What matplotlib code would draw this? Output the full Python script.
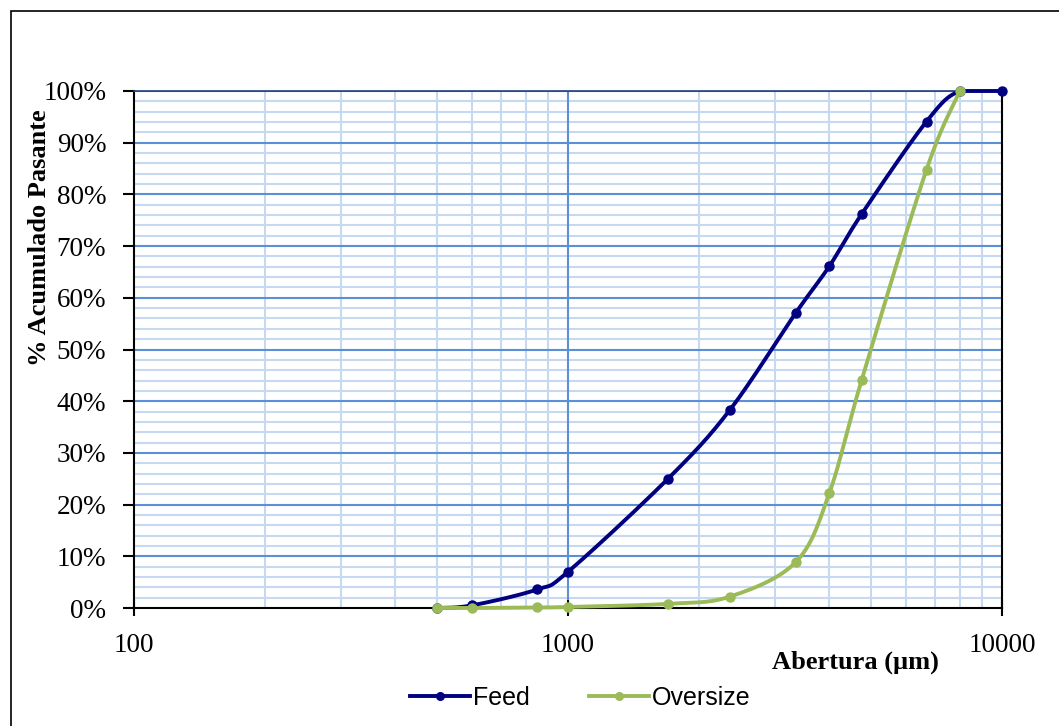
import numpy as np
import matplotlib
matplotlib.use("Agg")
import matplotlib.pyplot as plt
from matplotlib.ticker import FixedLocator, NullFormatter
from matplotlib.patches import Rectangle

# sieve openings (um) and cumulative % passing
feed_size = [500, 600, 850, 1000, 1700, 2360, 3350, 4000, 4750, 6700, 8000, 10000]
feed_pass = [0.0, 0.5, 3.6, 7.0, 25.0, 38.3, 57.1, 66.1, 76.2, 94.1, 100.0, 100.0]

over_size = [500, 600, 850, 1000, 1700, 2360, 3350, 4000, 4750, 6700, 8000]
over_pass = [0.0, 0.0, 0.1, 0.2, 0.8, 2.2, 8.9, 22.2, 44.1, 84.8, 100.0]

y_ticks = list(range(0, 101, 10))
y_labels = [f"{v}%" for v in y_ticks]
x_ticks = [100, 1000, 10000]
x_labels = ["100", "1000", "10000"]


def smooth(xs, ys, n=30):
    # Excel-like smoothed line: bezier through points in (log x, y) screen-ish space
    u = np.log10(np.asarray(xs, float)) * 434.0
    v = np.asarray(ys, float) * 5.17
    pts = np.column_stack([u, v])
    out = []
    for i in range(len(pts) - 1):
        p0 = pts[i - 1] if i > 0 else pts[i]
        p1, p2 = pts[i], pts[i + 1]
        p3 = pts[i + 2] if i + 2 < len(pts) else pts[i + 1]
        c1 = p1 + (p2 - p0) / 6.0
        c2 = p2 - (p3 - p1) / 6.0
        t = np.linspace(0, 1, n)[:, None]
        seg = ((1 - t) ** 3) * p1 + 3 * ((1 - t) ** 2) * t * c1 + 3 * (1 - t) * t ** 2 * c2 + t ** 3 * p2
        out.append(seg if i == 0 else seg[1:])
    out = np.vstack(out)
    return 10 ** (out[:, 0] / 434.0), np.clip(out[:, 1] / 5.17, 0, 100)


fig = plt.figure(figsize=(10.59, 7.26), dpi=100)
ax = fig.add_axes([134 / 1059, 1 - 608 / 726, (1002 - 134) / 1059, (608 - 91) / 726])

ax.set_xscale("log")
ax.set_xlim(100, 10000)
ax.set_ylim(0, 100)

# gridlines
minor_x = [m * 10 ** d for d in (2, 3) for m in range(2, 10)]
for xv in minor_x:
    ax.axvline(xv, color="#c6d9f0", lw=1.5, zorder=0)
for yv in range(2, 100, 2):
    if yv % 10:
        ax.axhline(yv, color="#c6d9f0", lw=1.5, zorder=0)
for yv in range(10, 101, 10):
    ax.axhline(yv, color="#5b8fd6", lw=1.5, zorder=0.5)
ax.axvline(1000, color="#5b8fd6", lw=1.5, zorder=0.5)

fx, fy = smooth(feed_size, feed_pass)
ox, oy = smooth(over_size, over_pass)
ax.plot(fx, fy, color="#000080", lw=2.8, zorder=3, clip_on=False)
ax.plot(feed_size, feed_pass, "o", color="#000080", ms=6.5, zorder=3, clip_on=False)
ax.plot(ox, oy, color="#9bbb59", lw=2.8, zorder=4, clip_on=False)
ax.plot(over_size, over_pass, "o", color="#9bbb59", ms=6.5, zorder=4, clip_on=False)

# legend handles
h1, = ax.plot([], [], color="#000080", lw=2.8, marker="o", ms=5.5)
h2, = ax.plot([], [], color="#9bbb59", lw=2.8, marker="o", ms=5.5)
fig.legend([h1, h2], ["Feed", "Oversize"], loc="center", bbox_to_anchor=(0.548, 0.039),
           ncol=2, frameon=False, handlelength=2.4, columnspacing=2.4, handletextpad=0.1,
           prop={"family": "Liberation Sans", "size": 18})

ax.yaxis.set_major_locator(FixedLocator(y_ticks))
ax.set_yticklabels(y_labels, family="Liberation Serif", fontsize=19.5)
ax.xaxis.set_major_locator(FixedLocator(x_ticks))
ax.xaxis.set_minor_locator(FixedLocator([]))
ax.xaxis.set_minor_formatter(NullFormatter())
ax.set_xticklabels(x_labels, family="Liberation Serif", fontsize=19.5)
ax.tick_params(axis="y", direction="out", length=8, width=1.5, color="black", pad=12)
ax.tick_params(axis="x", direction="inout", length=12, width=1.5, color="black", pad=12)

for side in ("left", "bottom", "right"):
    ax.spines[side].set_color("black")
    ax.spines[side].set_linewidth(1.5)
ax.spines["top"].set_color("#1f3f7f")
ax.spines["top"].set_linewidth(1.2)

fig.text(40 / 1059, 1 - 238 / 726, "% Acumulado Pasante", rotation=90, ha="center", va="center",
         family="Liberation Serif", fontsize=19, fontweight="bold")
fig.text(855 / 1059, 1 - 662 / 726, "Abertura (µm)", ha="center", va="center",
         family="Liberation Serif", fontsize=19, fontweight="bold")

fig.patches.append(Rectangle((11 / 1059, -0.01), 1.1, 1 - 11 / 726 + 0.01, transform=fig.transFigure,
                             fill=False, edgecolor="black", lw=1.2))

fig.savefig("out.png", dpi=100)
